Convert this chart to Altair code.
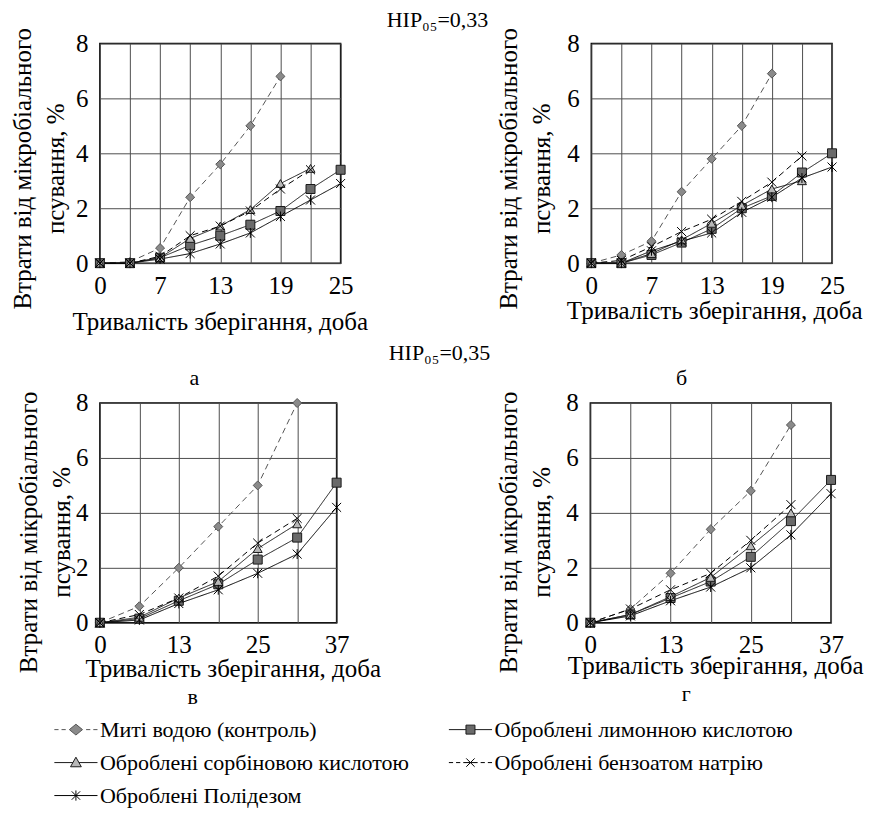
import json
import altair as alt
import pandas as pd

FONT = "Liberation Serif"

SERIES = [
    "Миті водою (контроль)",
    "Оброблені лимонною кислотою",
    "Оброблені сорбіновою кислотою",
    "Оброблені бензоатом натрію",
    "Оброблені Полідезом",
]

x_labels_top = ["0", "", "7", "", "13", "", "19", "", "25"]
x_labels_bottom = ["0", "", "13", "", "25", "", "37"]
y_ticks = [0, 2, 4, 6, 8]

# panel а
a_control = [0, 0.05, 0.55, 2.4, 3.6, 5.0, 6.8]
a_citric = [0, 0, 0.2, 0.65, 1.0, 1.4, 1.9, 2.7, 3.4]
a_sorbic = [0, 0, 0.2, 0.9, 1.35, 1.95, 2.9, 3.45]
a_benzoate = [0, 0, 0.25, 1.0, 1.35, 1.9, 2.7, 3.4]
a_polidez = [0, 0, 0.15, 0.35, 0.7, 1.1, 1.7, 2.3, 2.9]
# panel б
b_control = [0, 0.3, 0.8, 2.6, 3.8, 5.0, 6.9]
b_citric = [0, 0, 0.3, 0.75, 1.25, 2.0, 2.45, 3.3, 4.0]
b_sorbic = [0, 0, 0.35, 0.85, 1.45, 2.1, 2.7, 3.0]
b_benzoate = [0, 0.1, 0.6, 1.15, 1.6, 2.25, 2.95, 3.9]
b_polidez = [0, 0, 0.45, 0.8, 1.1, 1.85, 2.4, 3.1, 3.5]
# panel в
c_control = [0, 0.6, 2.0, 3.5, 5.0, 8.0]
c_citric = [0, 0.15, 0.8, 1.4, 2.3, 3.1, 5.1]
c_sorbic = [0, 0.2, 0.9, 1.5, 2.7, 3.6]
c_benzoate = [0, 0.3, 0.9, 1.7, 2.9, 3.8]
c_polidez = [0, 0.1, 0.7, 1.2, 1.8, 2.5, 4.2]
# panel г
d_control = [0, 0.5, 1.8, 3.4, 4.8, 7.2]
d_citric = [0, 0.3, 0.9, 1.5, 2.4, 3.7, 5.2]
d_sorbic = [0, 0.3, 0.95, 1.65, 2.8, 4.0]
d_benzoate = [0, 0.5, 1.2, 1.8, 3.0, 4.3]
d_polidez = [0, 0.25, 0.8, 1.3, 2.0, 3.2, 4.7]

hip_top = "НІР₀₅=0,33"
hip_bottom = "НІР₀₅=0,35"

X_PATH = "M-1,-1L1,1M-1,1L1,-1"
STAR_PATH = "M-1,-1L1,1M-1,1L1,-1M0,-1.1L0,1.1"
point_shapes = ["diamond", "square", "triangle-up", X_PATH, STAR_PATH]
point_fills = ["#8a8a8a", "#6a6a6a", "#b8b8b8", "transparent", "transparent"]
strokes = ["#555555", "#1a1a1a", "#1a1a1a", "#000000", "#000000"]
dashes = [[6, 4], [1, 0], [1, 0], [6, 4], [1, 0]]

legend_paths = [
    "M-3.6,0H-2.9M-2.4,0H-1.7M-1.1,0L0,-0.9L1.1,0L0,0.9ZM1.7,0H2.4M2.9,0H3.6",
    "M-3.6,0H-0.75M0.75,0H3.6M-0.75,-0.75H0.75V0.75H-0.75Z",
    "M-3.6,0H-0.5M0.5,0H3.6M0,-0.9L0.9,0.7L-0.9,0.7Z",
    "M-3.6,0H-2.9M-2.4,0H-1.7M-1.2,0H1.2M1.7,0H2.4M2.9,0H3.6M-0.7,-0.7L0.7,0.7M-0.7,0.7L0.7,-0.7",
    "M-3.6,0H3.6M-0.7,-0.7L0.7,0.7M-0.7,0.7L0.7,-0.7M0,-0.85V0.85",
]


def frame(lists):
    rows = []
    for name, vals in zip(SERIES, lists):
        for i, v in enumerate(vals):
            rows.append({"series": name, "idx": i, "value": v})
    return pd.DataFrame(rows)


def panel(lists, xlabels, ytitle_x, ytitle_y, xtitle_x, xtitle_y, width=241):
    df = frame(lists)
    n = len(xlabels) - 1
    x = alt.X(
        "idx:Q",
        scale=alt.Scale(domain=[0, n], nice=False, zero=False),
        axis=alt.Axis(
            values=list(range(n + 1)),
            labelExpr=json.dumps(xlabels) + "[datum.value]",
            title="Тривалість зберігання, доба",
            titleX=xtitle_x,
            titleY=xtitle_y,
            titleBaseline="middle",
            labelPadding=10,
            labelFlush=False,
            labelFont=FONT,
            labelFontSize=25,
            titleFont=FONT,
            titleFontSize=25,
        ),
    )
    y = alt.Y(
        "value:Q",
        scale=alt.Scale(domain=[0, 8], nice=False),
        axis=alt.Axis(
            values=y_ticks,
            title=["Втрати від мікробіального", "псування, %"],
            titleX=ytitle_x,
            titleY=ytitle_y,
            titleLineHeight=33,
            labelPadding=12,
            labelFont=FONT,
            labelFontSize=25,
            titleFont=FONT,
            titleFontSize=25,
        ),
    )
    lines = alt.Chart(df).mark_line(strokeWidth=1).encode(
        x=x,
        y=y,
        detail="series:N",
        stroke=alt.Stroke("series:N", scale=alt.Scale(domain=SERIES, range=strokes), legend=None),
        strokeDash=alt.StrokeDash("series:N", scale=alt.Scale(domain=SERIES, range=dashes), legend=None),
    )
    points = alt.Chart(df).mark_point(opacity=1, strokeWidth=1, size=81).encode(
        x=x,
        y=y,
        shape=alt.Shape("series:N", scale=alt.Scale(domain=SERIES, range=point_shapes), legend=None),
        fill=alt.Fill("series:N", scale=alt.Scale(domain=SERIES, range=point_fills), legend=None),
        stroke=alt.Stroke("series:N", scale=alt.Scale(domain=SERIES, range=strokes), legend=None),
    )
    return alt.layer(lines, points).properties(width=width, height=220)


def small_title(text, orient="top", dx=0, offset=4, size=22):
    return alt.Title(text, orient=orient, dx=dx, offset=offset, font=FONT, fontSize=size,
                     fontWeight="normal", color="#000", frame="group", anchor="middle")


pa = panel([a_control, a_citric, a_sorbic, a_benzoate, a_polidez], x_labels_top, -64, 125, 120, 58)
pb = panel([b_control, b_citric, b_sorbic, b_benzoate, b_polidez], x_labels_top, -70, 125, 123, 47)
pc = panel([c_control, c_citric, c_sorbic, c_benzoate, c_polidez], x_labels_bottom, -58, 129, 133, 46,
           width=237).properties(title=small_title("а", dx=-24, offset=1))
pd_ = panel([d_control, d_citric, d_sorbic, d_benzoate, d_polidez], x_labels_bottom, -69, 129, 125, 43
            ).properties(title=small_title("б", dx=-29, offset=1))

pc_w = alt.vconcat(pc).properties(title=small_title("в", orient="bottom", dx=93, offset=5))
pd_w = alt.vconcat(pd_).properties(title=small_title("г", orient="bottom", dx=96, offset=5))

row1 = alt.hconcat(pa, pb, spacing=127).properties(title=small_title(hip_top, dx=338, offset=-5))
row2 = alt.hconcat(pc_w, pd_w, spacing=114).properties(title=small_title(hip_bottom, dx=340, offset=1))

# legend as its own small chart
leg_df = pd.DataFrame({
    "entry": SERIES,
    "col": [i % 2 for i in range(len(SERIES))],
    "row": [i // 2 for i in range(len(SERIES))],
})
lx = alt.X("col:Q", scale=alt.Scale(domain=[0, 1], range=[-24, 371]), axis=None)
ly = alt.Y("row:Q", scale=alt.Scale(domain=[0, 2], range=[13, 79]), axis=None)
leg_sym = alt.Chart(leg_df).mark_point(opacity=1, strokeWidth=1, size=144).encode(
    x=lx, y=ly,
    shape=alt.Shape("entry:N", scale=alt.Scale(domain=SERIES, range=legend_paths), legend=None),
    fill=alt.Fill("entry:N", scale=alt.Scale(domain=SERIES, range=point_fills), legend=None),
    stroke=alt.Stroke("entry:N", scale=alt.Scale(domain=SERIES, range=strokes), legend=None),
)
leg_txt = alt.Chart(leg_df).mark_text(
    align="left", baseline="middle", dx=24, font=FONT, fontSize=22, color="#000"
).encode(x=lx, y=ly, text="entry:N")
legend = alt.layer(leg_sym, leg_txt).properties(width=300, height=90, view={"stroke": "transparent"})

chart = (
    alt.vconcat(row1, row2, legend, spacing=7)
    .resolve_scale(shape="independent", fill="independent", stroke="independent",
                   strokeDash="independent")
    .properties(padding={"left": 2, "top": 0, "right": 0, "bottom": 0})
    .configure(font=FONT)
    .configure_view(stroke="#000", strokeWidth=1.5)
    .configure_axis(
        labelFont=FONT,
        titleFont=FONT,
        labelColor="#000",
        titleFontWeight="normal",
        titleColor="#000",
        grid=True,
        gridColor="#4d4d4d",
        gridWidth=1,
        gridOpacity=1,
        domain=False,
        ticks=False,
        tickSize=0,
    )
    .configure_title(font=FONT, fontWeight="normal", color="#000")
)

chart.save("out.html", embed_options={"renderer": "svg", "actions": False})
